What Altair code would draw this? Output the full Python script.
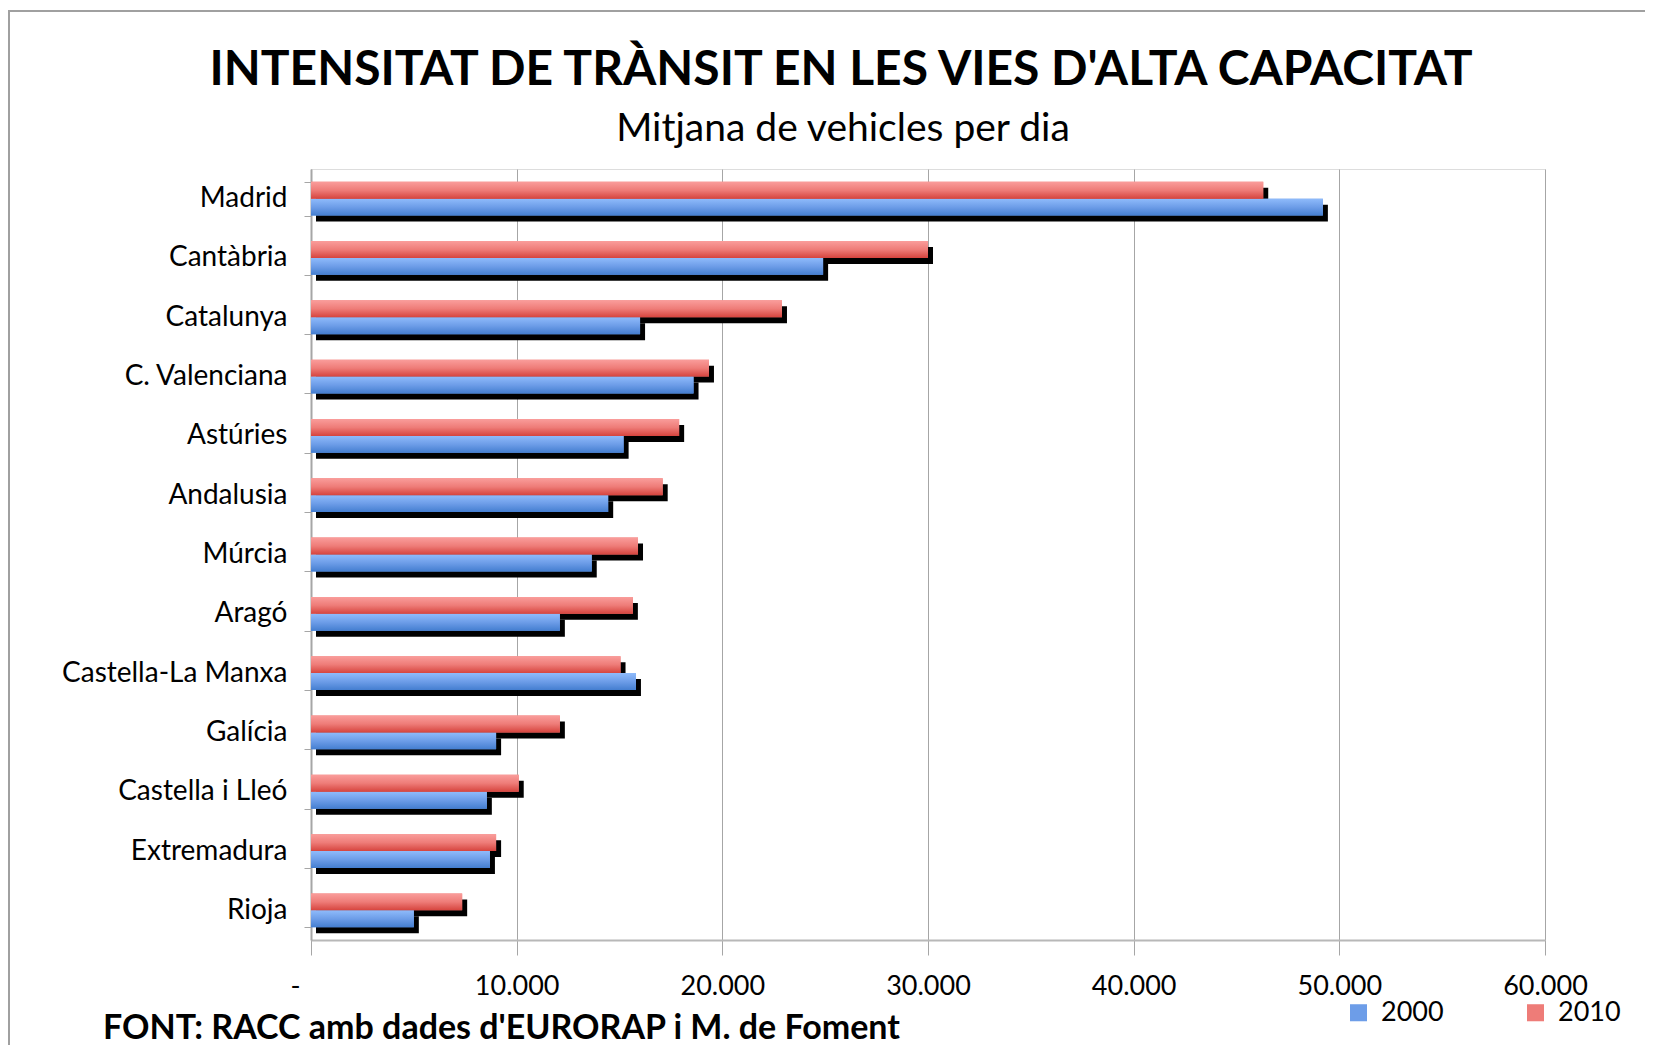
import altair as alt
import pandas as pd

categories = ["Madrid", "Cantàbria", "Catalunya", "C. Valenciana", "Astúries",
              "Andalusia", "Múrcia", "Aragó", "Castella-La Manxa", "Galícia",
              "Castella i Lleó", "Extremadura", "Rioja"]
v2000 = [49200, 24900, 16000, 18600, 15200, 14450, 13650, 12100, 15800, 9000, 8550, 8700, 5000]
v2010 = [46300, 30000, 22900, 19350, 17900, 17100, 15900, 15650, 15050, 12100, 10100, 9000, 7350]
years = ["2000", "2010"]
x_ticks = [0, 10000, 20000, 30000, 40000, 50000, 60000]
title_text = "INTENSITAT DE TRÀNSIT EN LES VIES D'ALTA CAPACITAT"
subtitle_text = "Mitjana de vehicles per dia"
source_text = "FONT: RACC amb dades d'EURORAP i M. de Foment"

rows = []
for c, a, b in zip(categories, v2000, v2010):
    rows.append({"cat": c, "year": "2000", "value": a})
    rows.append({"cat": c, "year": "2010", "value": b})
df = pd.DataFrame(rows)

W, H = 1234, 771
n = len(categories)
step = H / n
pin = 0.43
bw = step * (1 - pin)
FONT = "Lato"
GRID = "#A6A6A6"

yoff_order = ["2010", "2000"]

y_enc = alt.Y("cat:N", sort=categories,
              scale=alt.Scale(domain=categories, paddingInner=pin, paddingOuter=pin / 2),
              axis=alt.Axis(title=None, tickBand="extent", tickSize=7, tickColor=GRID,
                            domainColor=GRID, domainWidth=2, labelPadding=17,
                            labelFont=FONT, labelFontSize=28, labelColor="black",
                            labelLimit=400, grid=False))
x_enc = alt.X("value:Q",
              scale=alt.Scale(domain=[0, 60000], nice=False, zero=True),
              axis=alt.Axis(title=None, values=x_ticks, grid=True, gridColor=GRID,
                            gridWidth=1, domainColor="#B8B8B8", domainWidth=2,
                            tickColor=GRID, tickSize=15, labelPadding=18, labelFlush=False,
                            labelFont=FONT, labelFontSize=27, labelColor="black",
                            labelOffset={"condition": {"test": "datum.value == 0", "value": -16},
                                         "value": 0},
                            labelExpr="datum.value == 0 ? '-' : replace(format(datum.value, ','), ',', '.')"))
yoff_enc = alt.YOffset("year:N", scale=alt.Scale(domain=yoff_order, paddingInner=0, paddingOuter=0))
yoff_shadow = alt.YOffset("year:N", scale=alt.Scale(domain=yoff_order, range=[6, 6 + bw],
                                                    paddingInner=0, paddingOuter=0))

grad_red = alt.Gradient(gradient="linear", x1=0, y1=0, x2=0, y2=1,
                        stops=[alt.GradientStop(color="#FA9D9B", offset=0),
                               alt.GradientStop(color="#EE7C78", offset=0.5),
                               alt.GradientStop(color="#D6443E", offset=1)])
grad_blue = alt.Gradient(gradient="linear", x1=0, y1=0, x2=0, y2=1,
                         stops=[alt.GradientStop(color="#8FBBFB", offset=0),
                                alt.GradientStop(color="#6D9DE8", offset=0.5),
                                alt.GradientStop(color="#447ED0", offset=1)])

base = alt.Chart(df)

shadow = base.mark_bar(color="black", xOffset=5, x2Offset=5).encode(
    y=y_enc, x=x_enc, yOffset=yoff_shadow)

bars = base.mark_bar().encode(
    y=y_enc, x=x_enc, yOffset=yoff_enc,
    color=alt.Color("year:N",
                    scale=alt.Scale(domain=years, range=["#6D9DE8", "#EE7C78"]),
                    legend=alt.Legend(title=None, orient="none", legendX=1034, legendY=830,
                                      direction="horizontal", symbolType="square",
                                      symbolSize=290, symbolStrokeWidth=0,
                                      labelFont=FONT, labelFontSize=27, labelColor="black",
                                      columnPadding=78, labelOffset=9)))

blue = base.transform_filter(alt.datum.year == "2000").mark_bar(color=grad_blue).encode(
    y=y_enc, x=x_enc, yOffset=yoff_enc)
red = base.transform_filter(alt.datum.year == "2010").mark_bar(color=grad_red).encode(
    y=y_enc, x=x_enc, yOffset=yoff_enc)

title = alt.Chart(pd.DataFrame({"t": [title_text]})).mark_text(
    font=FONT, fontSize=48, fontWeight="bold", align="center", baseline="alphabetic", color="black"
).encode(text="t:N", x=alt.value(530), y=alt.value(-84))
subtitle = alt.Chart(pd.DataFrame({"t": [subtitle_text]})).mark_text(
    font=FONT, fontSize=39, align="center", baseline="alphabetic", color="black"
).encode(text="t:N", x=alt.value(532), y=alt.value(-28))

footer = alt.Chart(pd.DataFrame({"t": [source_text]})).mark_text(
    font=FONT, fontSize=34, fontWeight="bold", align="left", baseline="alphabetic", color="black"
).encode(text="t:N", x=alt.value(-208), y=alt.value(870))

frame_top = alt.Chart(pd.DataFrame({"k": [0]})).mark_rule(color="#A0A0A0", strokeWidth=2).encode(
    x=alt.value(-303), x2=alt.value(1400), y=alt.value(-158))
frame_left = alt.Chart(pd.DataFrame({"k": [0]})).mark_rule(color="#A0A0A0", strokeWidth=2).encode(
    x=alt.value(-302), y=alt.value(-158), y2=alt.value(880))

chart = alt.layer(frame_top, frame_left, shadow, bars, blue, red, title, subtitle, footer).resolve_scale(
    yOffset="independent"
).properties(
    width=W, height=H,
    autosize=alt.AutoSizeParams(type="none"),
    padding={"left": 303, "top": 161, "right": 100, "bottom": 105},
).configure_view(stroke=None).configure(background="white")

chart.save("out.html", embed_options={"renderer": "svg", "actions": False})
